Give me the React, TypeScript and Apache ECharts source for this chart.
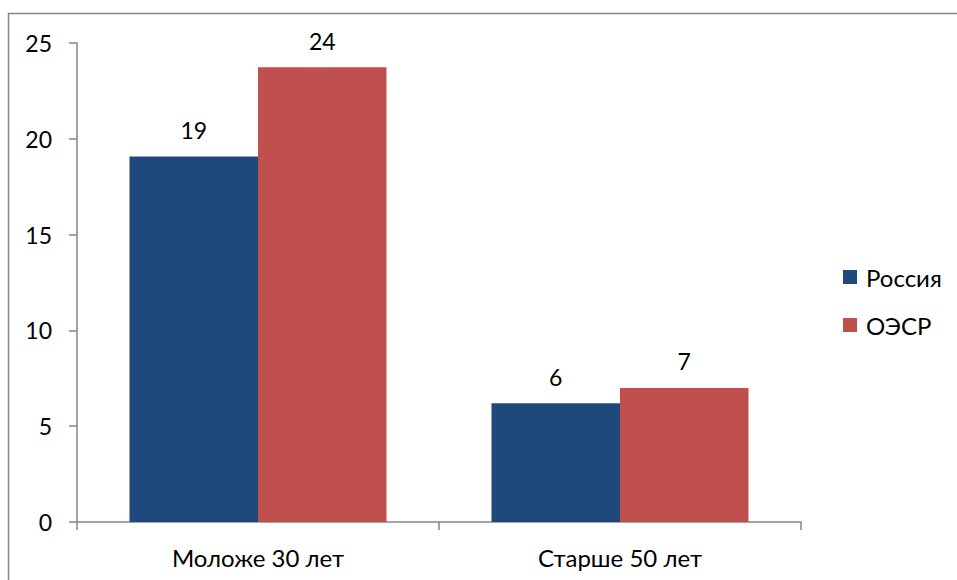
import React, { useEffect, useRef } from "react";
import * as echarts from "echarts";

const categories = ["Моложе 30 лет", "Старше 50 лет"];
const russia = [19.07, 6.2];
const oecd = [23.73, 7.0];
const seriesNames = ["Россия", "ОЭСР"];
const yTicks = { min: 0, max: 25, interval: 5 };

const FONT = "Lato";

export default function App() {
  const ref = useRef<HTMLDivElement>(null);
  useEffect(() => {
    document.body.style.margin = "0";
    const chart = echarts.init(ref.current!, null, { renderer: "svg" });
    const label = {
      show: true,
      position: "top" as const,
      distance: 15,
      color: "#000",
      fontFamily: FONT,
      fontSize: 23,
      formatter: (p: any) => String(Math.round(p.value)),
    };
    chart.setOption({
      animation: false,
      backgroundColor: "#fff",
      textStyle: { fontFamily: FONT },
      graphic: [
        {
          type: "rect",
          shape: { x: 8.5, y: 13.5, width: 1000, height: 1000 },
          style: { fill: "none", stroke: "#868686", lineWidth: 1.5 },
          silent: true,
        },
      ],
      grid: { left: 77, right: 156, top: 43, bottom: 58, containLabel: false },
      legend: {
        orient: "vertical",
        left: 843,
        top: 265,
        padding: 0,
        itemWidth: 14,
        itemHeight: 14,
        itemGap: 24,
        icon: "rect",
        textStyle: { fontFamily: FONT, fontSize: 24, color: "#000", padding: [0, 0, 0, 4] },
        data: seriesNames,
      },
      xAxis: {
        type: "category",
        data: categories,
        axisLine: { lineStyle: { color: "#868686", width: 1.5 } },
        axisTick: { show: true, length: 8, lineStyle: { color: "#868686", width: 1.5 } },
        axisLabel: { color: "#000", fontFamily: FONT, fontSize: 24, margin: 23 },
      },
      yAxis: {
        type: "value",
        min: yTicks.min,
        max: yTicks.max,
        interval: yTicks.interval,
        splitLine: { show: false },
        axisLine: { show: true, lineStyle: { color: "#868686", width: 1.5 } },
        axisTick: { show: true, length: 8, lineStyle: { color: "#868686", width: 1.5 } },
        axisLabel: { color: "#000", fontFamily: FONT, fontSize: 23, margin: 25 },
      },
      series: [
        {
          name: seriesNames[0],
          type: "bar",
          data: russia,
          barGap: "0%",
          barCategoryGap: "29%",
          itemStyle: { color: "#1F497D" },
          label,
        },
        {
          name: seriesNames[1],
          type: "bar",
          data: oecd,
          barGap: "0%",
          barCategoryGap: "29%",
          itemStyle: { color: "#C0504D" },
          label,
        },
      ],
    });
    return () => chart.dispose();
  }, []);
  return <div ref={ref} style={{ width: 957, height: 580 }} />;
}
